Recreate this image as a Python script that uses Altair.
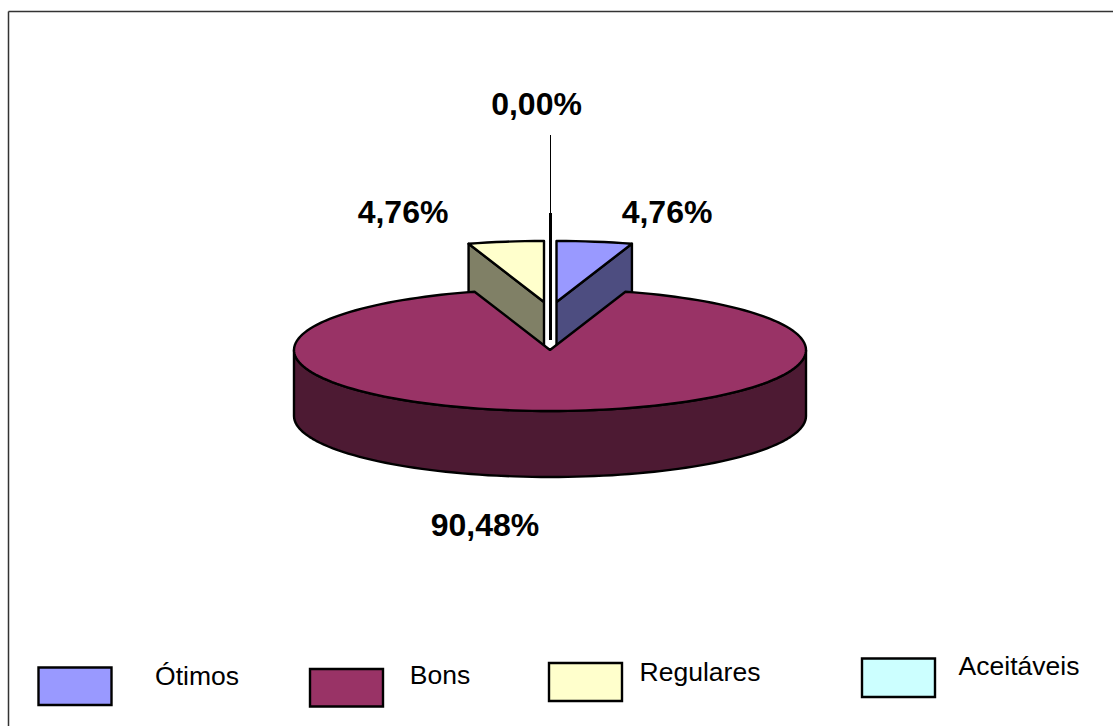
import numpy as np
import pandas as pd
import altair as alt

# Survey shares, in percent
categories = ["Ótimos", "Bons", "Regulares", "Aceitáveis"]
shares = [4.76, 90.48, 4.76, 0.00]
top_colors = ["#9999FF", "#993366", "#FFFFCC", "#CCFFFF"]
side_colors = ["#4D4D80", "#4D1A33", "#808066", "#668080"]

# Page-level layout of the pseudo-3D pie, in pixels
W, H = 1113, 726
RX, RY, DEPTH = 256, 61, 66
CENTER = (550, 350)
OFFSETS = {"Ótimos": (6.5, -48), "Regulares": (-6, -48)}
ZERO_LINE = (550.5, 213, 340)
LEADER = (550.5, 135, 213)
label_pos = {"Ótimos": (667, 213), "Bons": (485, 526),
             "Regulares": (403, 213), "Aceitáveis": (536.5, 105)}
swatches = {"Ótimos": (38.5, 111.5, 667.5, 705), "Bons": (310, 383, 669, 706.5),
            "Regulares": (549, 622, 663, 701), "Aceitáveis": (862, 935, 658.5, 697)}
legend_text = {"Ótimos": (197, 677), "Bons": (440, 676),
               "Regulares": (700, 673), "Aceitáveis": (1019, 667)}

x_scale = alt.Scale(domain=[0, W], range=[0, W], nice=False, zero=False)
y_scale = alt.Scale(domain=[0, H], range=[0, H], nice=False, zero=False)
X = lambda f: alt.X(f, type="quantitative", scale=x_scale, axis=None)
Y = lambda f: alt.Y(f, type="quantitative", scale=y_scale, axis=None)


def rim(cx, cy, a0, a1):
    """Points on the tilted circle, angles in degrees clockwise from the top."""
    n = max(2, int(abs(a1 - a0) / 2) + 1)
    t = np.radians(np.linspace(a0, a1, n))
    return list(zip(cx + RX * np.sin(t), cy - RY * np.cos(t)))


def polygon(points, fill):
    pts = list(points) + [points[0]]
    df = pd.DataFrame({"x": [p[0] for p in pts], "y": [p[1] for p in pts],
                       "i": range(len(pts))})
    return alt.Chart(df).mark_line(
        fill=fill, stroke="black", strokeWidth=2.4, strokeJoin="round", clip=False
    ).encode(x=X("x"), y=Y("y"), order=alt.Order("i:Q"))


# Sweep of each slice, clockwise from the top of the pie
ends = np.cumsum(shares) * 3.6
starts = ends - np.array(shares) * 3.6
sweep = {c: (s, e) for c, s, e in zip(categories, starts, ends)}
# Regulares closes the circle just left of the top
sweep["Regulares"] = (360 - shares[2] * 3.6, 360)

layers = []

# Frame: only the top and left edges of the page
frame = pd.DataFrame({"x": [8.5, 8.5], "x2": [W, 8.5], "y": [11.5, 11.5], "y2": [11.5, H]})
layers.append(alt.Chart(frame).mark_rule(color="#333333", strokeWidth=1.5).encode(
    x=X("x"), x2="x2", y=Y("y"), y2="y2"))

# Exploded small slices sit behind the main slice
for cat in ["Ótimos", "Regulares"]:
    i = categories.index(cat)
    cx, cy = CENTER[0] + OFFSETS[cat][0], CENTER[1] + OFFSETS[cat][1]
    a0, a1 = sweep[cat]
    cut = a1 if cat == "Ótimos" else a0
    edge = rim(cx, cy, cut, cut)[0]
    layers.append(polygon([(cx, cy), edge, (edge[0], edge[1] + DEPTH), (cx, cy + DEPTH)],
                          side_colors[i]))
    layers.append(polygon([(cx, cy)] + rim(cx, cy, a0, a1), top_colors[i]))

# The 0% slice collapses to a heavy line, with its thin leader above
zero = pd.DataFrame({"x": [ZERO_LINE[0]], "y": [ZERO_LINE[1]], "y2": [ZERO_LINE[2]]})
layers.append(alt.Chart(zero).mark_rule(color="black", strokeWidth=3).encode(
    x=X("x"), y=Y("y"), y2="y2"))
leader = pd.DataFrame({"x": [LEADER[0]], "y": [LEADER[1]], "y2": [LEADER[2]]})
layers.append(alt.Chart(leader).mark_rule(color="black", strokeWidth=1).encode(
    x=X("x"), y=Y("y"), y2="y2"))

# Main slice: front wall, then the top face with its notch
bi = categories.index("Bons")
cx, cy = CENTER
front = rim(cx, cy, 90, 270)
wall = front + [(x, y + DEPTH) for x, y in reversed(front)]
layers.append(polygon(wall, side_colors[bi]))
# Bons starts after Ótimos, so its sweep already leaves the notch at the top
a0, a1 = sweep["Bons"]
layers.append(polygon([(cx, cy)] + rim(cx, cy, a0, a1), top_colors[bi]))

# Value labels
labels = pd.DataFrame({
    "x": [label_pos[c][0] for c in categories],
    "y": [label_pos[c][1] for c in categories],
    "t": [f"{v:.2f}".replace(".", ",") + "%" for v in shares],
})
layers.append(alt.Chart(labels).mark_text(
    font="Liberation Sans", fontSize=32, fontWeight="bold", color="black",
    align="center", baseline="middle"
).encode(x=X("x"), y=Y("y"), text="t:N"))

# Hand-placed legend
sw = pd.DataFrame({
    "cat": categories,
    "x": [swatches[c][0] for c in categories],
    "x2": [swatches[c][1] for c in categories],
    "y": [swatches[c][2] for c in categories],
    "y2": [swatches[c][3] for c in categories],
    "fill": top_colors,
})
layers.append(alt.Chart(sw).mark_rect(stroke="black", strokeWidth=2.4).encode(
    x=X("x"), x2="x2", y=Y("y"), y2="y2",
    fill=alt.Fill("fill:N", scale=None)))
lt = pd.DataFrame({
    "t": categories,
    "x": [legend_text[c][0] for c in categories],
    "y": [legend_text[c][1] for c in categories],
})
layers.append(alt.Chart(lt).mark_text(
    font="Liberation Sans", fontSize=26.5, color="black",
    align="center", baseline="middle"
).encode(x=X("x"), y=Y("y"), text="t:N"))

chart = alt.layer(*layers).properties(
    width=W, height=H, padding=0,
    autosize=alt.AutoSizeParams(type="none"),
    background="white",
).configure_view(stroke=None)

chart.save("out.html", embed_options={"renderer": "svg", "actions": False})
